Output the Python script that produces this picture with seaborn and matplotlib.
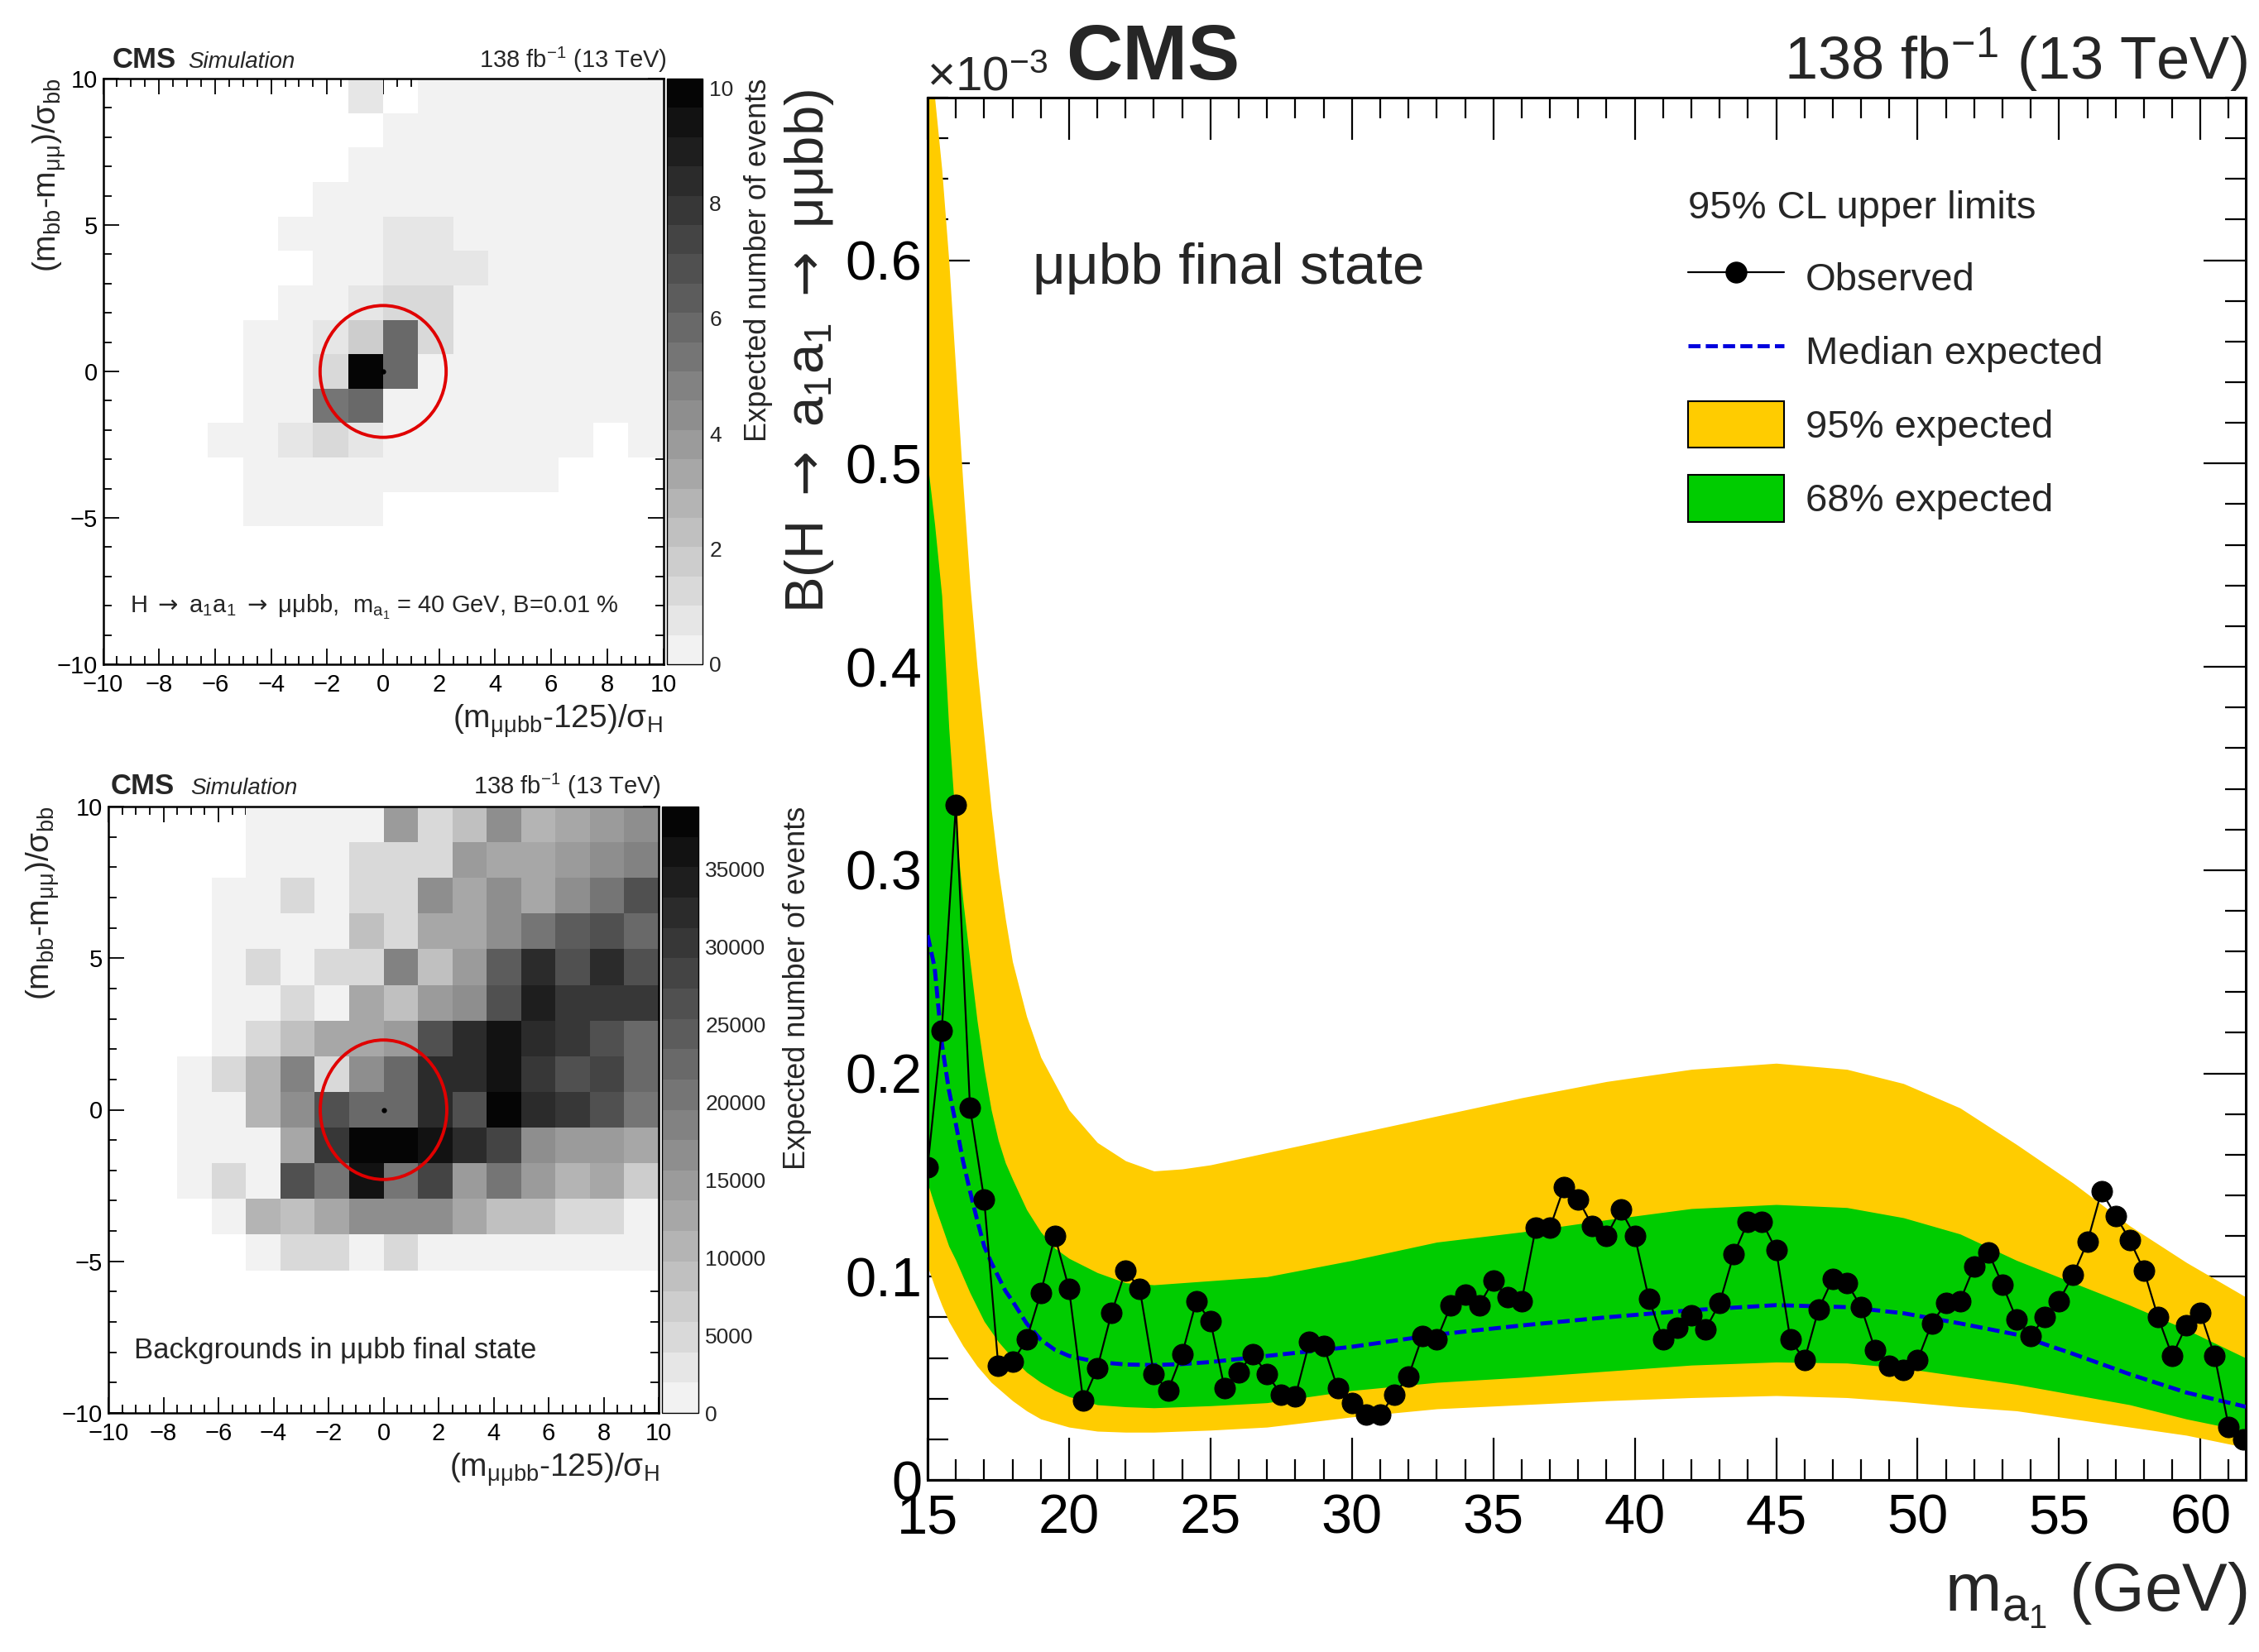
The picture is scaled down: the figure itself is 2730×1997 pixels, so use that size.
import numpy as np
import pandas as pd
import matplotlib
matplotlib.use("Agg")
import matplotlib.pyplot as plt
import seaborn as sns
from matplotlib.colors import ListedColormap
from matplotlib.patches import Ellipse, Patch
from matplotlib.lines import Line2D

# ------------------------------------------------------------------ data
# 2D maps: 16 x-bins in (m_mumubb-125)/sigma_H, 17 y-bins in (m_bb-m_mumu)/sigma_bb
x_edges = np.linspace(-10, 10, 17)
y_edges = np.linspace(-10, 10, 18)

# signal (expected events), rows listed from top (y=+10) to bottom (y=-10)
signal_rows = [
    [0, 0, 0, 0, 0, 0, 0, 0.55, 0, 0.2, 0.2, 0.2, 0.2, 0.2, 0.2, 0.2],
    [0, 0, 0, 0, 0, 0, 0, 0, 0.2, 0.2, 0.2, 0.2, 0.2, 0.2, 0.2, 0.2],
    [0, 0, 0, 0, 0, 0, 0, 0.2, 0.2, 0.2, 0.2, 0.2, 0.2, 0.2, 0.2, 0.2],
    [0, 0, 0, 0, 0, 0, 0.2, 0.2, 0.2, 0.2, 0.2, 0.2, 0.2, 0.2, 0.2, 0.2],
    [0, 0, 0, 0, 0, 0.2, 0.2, 0.2, 0.6, 0.6, 0.2, 0.2, 0.2, 0.2, 0.2, 0.2],
    [0, 0, 0, 0, 0, 0, 0.2, 0.2, 0.6, 0.6, 0.55, 0.2, 0.2, 0.2, 0.2, 0.2],
    [0, 0, 0, 0, 0, 0.2, 0.2, 0.6, 1.2, 1.4, 0.2, 0.2, 0.2, 0.2, 0.2, 0.2],
    [0, 0, 0, 0, 0.2, 0.2, 0.55, 1.7, 5.8, 1.4, 0.2, 0.2, 0.2, 0.2, 0.2, 0.2],
    [0, 0, 0, 0, 0.2, 0.2, 1.2, 10.0, 5.8, 0.15, 0.2, 0.2, 0.2, 0.2, 0.2, 0.2],
    [0, 0, 0, 0, 0.2, 0.2, 5.3, 5.8, 0.1, 0.2, 0.2, 0.2, 0.2, 0.2, 0.2, 0.2],
    [0, 0, 0, 0.2, 0.2, 0.6, 1.4, 0.55, 0.2, 0.2, 0.2, 0.2, 0.2, 0.2, 0, 0.2],
    [0, 0, 0, 0, 0.2, 0.2, 0.2, 0.2, 0.2, 0.2, 0.2, 0.2, 0.2, 0, 0, 0],
    [0, 0, 0, 0, 0.2, 0.2, 0.2, 0.2, 0, 0, 0, 0, 0, 0, 0, 0],
    [0] * 16,
    [0] * 16,
    [0] * 16,
    [0] * 16,
]

# backgrounds (expected events), rows from top to bottom
bkg_rows = [
    [0, 0, 0, 0, 300, 500, 500, 500, 14700, 4300, 9100, 17500, 10900, 13500, 14700, 17500],
    [0, 0, 0, 0, 500, 1700, 1700, 5200, 5200, 5600, 14500, 12700, 12700, 14700, 17500, 18800],
    [0, 0, 0, 500, 500, 4800, 1300, 4800, 4300, 17500, 13500, 17200, 12200, 16200, 20300, 25900],
    [0, 0, 0, 500, 1300, 500, 500, 8600, 4000, 12700, 12200, 17200, 20300, 25000, 25900, 22400],
    [0, 0, 0, 500, 4800, 1300, 5600, 5600, 18000, 8800, 14700, 25000, 31500, 27200, 32900, 25900],
    [0, 0, 0, 500, 1300, 4800, 1100, 12700, 8300, 14700, 17500, 25900, 34900, 30300, 30300, 30300],
    [0, 0, 0, 500, 5700, 8300, 13500, 11900, 14700, 25900, 31500, 35600, 32900, 30300, 25900, 23100],
    [0, 0, 500, 4800, 10900, 18800, 4800, 17500, 23100, 32900, 32900, 35600, 30300, 25900, 28600, 23100],
    [0, 0, 500, 1700, 10900, 17500, 25900, 23100, 23100, 31500, 25900, 39000, 31500, 29500, 25900, 20300],
    [0, 0, 500, 1300, 1300, 13500, 30300, 37400, 37400, 37000, 32900, 28600, 17500, 14700, 14700, 13500],
    [0, 0, 500, 4800, 1300, 25900, 20300, 35600, 20300, 27700, 14700, 20300, 14700, 10900, 11900, 7600],
    [0, 0, 0, 500, 10900, 9100, 12700, 17500, 16300, 17500, 11900, 9100, 9100, 4800, 4800, 1300],
    [0, 0, 0, 0, 500, 4800, 4800, 1300, 4000, 1300, 1300, 1300, 800, 800, 800, 800],
    [0] * 16,
    [0] * 16,
    [0] * 16,
    [0] * 16,
]

signal_vmax = 10.16
bkg_vmax = 39000
signal_cticks = [0, 2, 4, 6, 8, 10]
bkg_cticks = [0, 5000, 10000, 15000, 20000, 25000, 30000, 35000]
circle_radius = [2.25, 2.3]

map_x_major = [-10, -8, -6, -4, -2, 0, 2, 4, 6, 8, 10]
map_x_labels = ["\u221210", "\u22128", "\u22126", "\u22124", "\u22122", "0", "2", "4", "6", "8", "10"]
map_y_major = [-10, -5, 0, 5, 10]
map_y_labels = ["\u221210", "\u22125", "0", "5", "10"]

# limit plot (values in units of 1e-3)
obs_mass = [15.0, 15.5, 16.0, 16.5, 17.0, 17.5, 18.0, 18.5, 19.0, 19.5,
            20.0, 20.5, 21.0, 21.5, 22.0, 22.5, 23.0, 23.5, 24.0, 24.5,
            25.0, 25.5, 26.0, 26.5, 27.0, 27.5, 28.0, 28.5, 29.0, 29.5,
            30.0, 30.5, 31.0, 31.5, 32.0, 32.5, 33.0, 33.5, 34.0, 34.5,
            35.0, 35.5, 36.0, 36.5, 37.0, 37.5, 38.0, 38.5, 39.0, 39.5,
            40.0, 40.5, 41.0, 41.5, 42.0, 42.5, 43.0, 43.5, 44.0, 44.5,
            45.0, 45.5, 46.0, 46.5, 47.0, 47.5, 48.0, 48.5, 49.0, 49.5,
            50.0, 50.5, 51.0, 51.5, 52.0, 52.5, 53.0, 53.5, 54.0, 54.5,
            55.0, 55.5, 56.0, 56.5, 57.0, 57.5, 58.0, 58.5, 59.0, 59.5,
            60.0, 60.5, 61.0, 61.5]
obs_limit = [0.154, 0.221, 0.332, 0.183, 0.138, 0.056, 0.058, 0.069, 0.092, 0.120,
             0.094, 0.039, 0.055, 0.082, 0.103, 0.094, 0.052, 0.044, 0.062, 0.088,
             0.078, 0.045, 0.053, 0.062, 0.052, 0.042, 0.041, 0.068, 0.066, 0.045,
             0.038, 0.032, 0.032, 0.042, 0.051, 0.071, 0.069, 0.086, 0.091, 0.086,
             0.098, 0.090, 0.088, 0.124, 0.124, 0.144, 0.138, 0.125, 0.120, 0.133,
             0.120, 0.089, 0.069, 0.075, 0.081, 0.074, 0.087, 0.111, 0.127, 0.127,
             0.113, 0.069, 0.059, 0.084, 0.099, 0.097, 0.085, 0.064, 0.056, 0.054,
             0.059, 0.077, 0.087, 0.088, 0.105, 0.112, 0.096, 0.079, 0.071, 0.080,
             0.088, 0.101, 0.117, 0.142, 0.130, 0.118, 0.103, 0.080, 0.061, 0.076,
             0.082, 0.061, 0.026, 0.020]

band_mass = [15.0, 15.25, 15.5, 15.75, 16.0, 16.25, 16.5, 16.75, 17.0, 17.25, 17.5,
             17.75, 18.0, 18.5, 19.0, 19.5, 20.0, 21.0, 22.0, 23.0, 24.0, 25.0,
             27.0, 30.0, 33.0, 36.0, 39.0, 42.0, 45.0, 47.5, 49.5, 51.5, 53.5,
             55.5, 57.5, 59.5, 61.6]
exp_95_hi = [0.70, 0.68, 0.645, 0.60, 0.545, 0.49, 0.44, 0.40, 0.365, 0.33, 0.300,
             0.276, 0.255, 0.228, 0.208, 0.195, 0.182, 0.166, 0.157, 0.152, 0.153, 0.155,
             0.161, 0.170, 0.179, 0.188, 0.196, 0.202, 0.205, 0.202, 0.195, 0.183, 0.165,
             0.146, 0.125, 0.107, 0.090]
exp_68_hi = [0.50, 0.47, 0.435, 0.37, 0.32, 0.285, 0.255, 0.226, 0.202, 0.182, 0.167,
             0.156, 0.148, 0.133, 0.122, 0.114, 0.109, 0.102, 0.097, 0.096, 0.097, 0.098,
             0.100, 0.108, 0.117, 0.122, 0.128, 0.1335, 0.1355, 0.134, 0.129, 0.121, 0.108,
             0.097, 0.086, 0.074, 0.060]
exp_median = [0.268, 0.252, 0.215, 0.192, 0.175, 0.157, 0.142, 0.128, 0.115, 0.107, 0.100,
              0.093, 0.088, 0.077, 0.069, 0.064, 0.061, 0.058, 0.0568, 0.0565, 0.057, 0.058,
              0.061, 0.0655, 0.0715, 0.076, 0.080, 0.0835, 0.086, 0.085, 0.082, 0.077, 0.0715,
              0.062, 0.052, 0.043, 0.036]
exp_68_lo = [0.146, 0.135, 0.125, 0.115, 0.108, 0.100, 0.092, 0.085, 0.078, 0.073, 0.068,
             0.064, 0.060, 0.053, 0.048, 0.044, 0.041, 0.037, 0.036, 0.0355, 0.036, 0.0365,
             0.038, 0.044, 0.048, 0.0505, 0.0535, 0.0565, 0.058, 0.0575, 0.055, 0.051, 0.047,
             0.042, 0.037, 0.030, 0.024]
exp_95_lo = [0.105, 0.095, 0.086, 0.078, 0.072, 0.066, 0.061, 0.056, 0.052, 0.048, 0.045,
             0.042, 0.039, 0.034, 0.030, 0.028, 0.026, 0.024, 0.0235, 0.0235, 0.024, 0.0245,
             0.026, 0.031, 0.035, 0.037, 0.039, 0.0405, 0.0415, 0.0405, 0.0385, 0.036, 0.034,
             0.030, 0.026, 0.022, 0.016]

lim_x_major = [15, 20, 25, 30, 35, 40, 45, 50, 55, 60]
lim_x_labels = ["15", "20", "25", "30", "35", "40", "45", "50", "55", "60"]
lim_y_major = [0.0, 0.1, 0.2, 0.3, 0.4, 0.5, 0.6]
lim_y_labels = ["0", "0.1", "0.2", "0.3", "0.4", "0.5", "0.6"]
legend_title = "95% CL upper limits"
legend_labels = ["Observed", "Median expected", "95% expected", "68% expected"]

# ------------------------------------------------------------------ style
sns.set_style("ticks")
plt.rcParams["font.family"] = ["Liberation Sans", "DejaVu Sans"]
plt.rcParams["mathtext.fontset"] = "custom"
plt.rcParams["mathtext.rm"] = "DejaVu Sans"
plt.rcParams["mathtext.it"] = "Liberation Sans:italic"
plt.rcParams["mathtext.bf"] = "Liberation Sans:bold"
plt.rcParams["mathtext.default"] = "regular"

ARROW = r"$\mathrm{\rightarrow}$"

W, H = 2730, 1997
fig = plt.figure(figsize=(W / 100, H / 100), dpi=100)
fig.patch.set_facecolor("white")


def fx(px):
    return px / W


def fy(py):
    return 1 - py / H


def box(x0, y0, x1, y1):
    return [fx(x0), fy(y1), fx(x1) - fx(x0), fy(y0) - fy(y1)]


grays = np.linspace(0.95, 0.02, 20)
gray_cmap = ListedColormap([(g, g, g) for g in grays])

dx = x_edges[1] - x_edges[0]
dy = y_edges[1] - y_edges[0]


def cx(t):
    return (t - x_edges[0]) / dx


def cy(t):
    return (y_edges[-1] - t) / dy


def draw_map(ax, cax, rows, vmax, cticks, radius):
    Z = np.array(rows, dtype=float)
    xc = 0.5 * (x_edges[:-1] + x_edges[1:])
    yc = 0.5 * (y_edges[:-1] + y_edges[1:])[::-1]
    df = pd.DataFrame(Z, index=yc, columns=xc)
    sns.heatmap(df, ax=ax, cbar_ax=cax, cmap=gray_cmap, vmin=0, vmax=vmax,
                mask=(Z == 0), xticklabels=False, yticklabels=False,
                cbar_kws={"ticks": cticks})
    ax.set_facecolor("white")
    for s in ax.spines.values():
        s.set_visible(True)
        s.set_color("black")
        s.set_linewidth(1.8)
    ax.set_xticks([cx(t) for t in map_x_major])
    ax.set_xticklabels(map_x_labels)
    ax.set_xticks([cx(t) for t in np.arange(-10, 10.01, 0.5)], minor=True)
    ax.set_yticks([cy(t) for t in map_y_major])
    ax.set_yticklabels(map_y_labels)
    ax.set_yticks([cy(t) for t in np.arange(-10, 10.01, 1.0)], minor=True)
    ax.tick_params(which="both", direction="in", top=True, right=True,
                   bottom=True, left=True, color="black", width=1.3,
                   labelsize=21, labelcolor="black")
    ax.tick_params(which="major", length=14)
    ax.tick_params(which="minor", length=7)
    ax.tick_params(axis="x", pad=8)
    ax.tick_params(axis="y", pad=5)
    ax.set_xlabel("")
    ax.set_ylabel("")
    ax.add_patch(Ellipse((cx(0), cy(0)), width=2 * radius / dx, height=2 * radius / dy,
                         fill=False, edgecolor="#e00000", linewidth=2.8, zorder=5))
    ax.plot([cx(0)], [cy(0)], "o", color="black", ms=3.5, zorder=6)
    cb = ax.collections[0].colorbar
    cb.outline.set_linewidth(1.0)
    cb.outline.set_edgecolor("black")
    cax.tick_params(direction="in", length=14, width=1.3, labelsize=19,
                    right=True, left=False, pad=6, color="black")
    cax.set_yticklabels([str(t) for t in cticks])


# ---------------- top-left: signal map
axT = fig.add_axes(box(124.5, 95, 801.5, 803))
caxT = fig.add_axes(box(806, 95, 849, 803))
draw_map(axT, caxT, signal_rows, signal_vmax, signal_cticks, circle_radius[0])

# ---------------- bottom-left: background map
axB = fig.add_axes(box(131, 975, 796, 1708))
caxB = fig.add_axes(box(800, 975, 844, 1708))
draw_map(axB, caxB, bkg_rows, bkg_vmax, bkg_cticks, circle_radius[1])

ylab_map = "(m$_{bb}$-m$_{\u03bc\u03bc}$)/\u03c3$_{bb}$"
xlab_map = "(m$_{\u03bc\u03bcbb}$-125)/\u03c3$_{H}$"

for (top, bot, axr, xl, cbx, cms_x, sim_x, lumi_x, base) in [
        (95, 803, 801, 60, 917, 136, 227, 806, 82),
        (975, 1708, 797, 52, 963, 134, 230, 799, 960)]:
    fig.text(fx(cms_x), fy(base), "CMS", fontsize=25, fontweight="bold", va="baseline")
    fig.text(fx(sim_x), fy(base), "Simulation", fontsize=20, fontstyle="italic", va="baseline")
    fig.text(fx(lumi_x), fy(base), "138 fb$^{-1}$ (13 TeV)", fontsize=21, ha="right", va="baseline")
    fig.text(fx(xl), fy(top), ylab_map, fontsize=28, rotation=90, ha="center", va="top")
    fig.text(fx(axr), fy(bot + 78), xlab_map, fontsize=28, ha="right", va="baseline")
    fig.text(fx(cbx), fy(top), "Expected number of events", fontsize=26, rotation=90,
             ha="center", va="top")

fig.text(fx(157), fy(741),
         "H " + ARROW + " a$_{1}$a$_{1}$ " + ARROW + " \u03bc\u03bcbb,  m$_{a_{1}}$ = 40 GeV, B=0.01 %",
         fontsize=21, va="baseline")
fig.text(fx(162), fy(1642), "Backgrounds in \u03bc\u03bcbb final state", fontsize=25, va="baseline")

# ---------------- right: limit plot
axR = fig.add_axes(box(1121, 118, 2714, 1789))
axR.set_facecolor("white")
axR.fill_between(band_mass, exp_95_lo, exp_95_hi, color="#ffcc00", linewidth=0, zorder=1)
axR.fill_between(band_mass, exp_68_lo, exp_68_hi, color="#00cc00", linewidth=0, zorder=2)
sns.lineplot(x=band_mass, y=exp_median, ax=axR, color="#0000dd", linewidth=3.5,
             linestyle=(0, (3, 1.3)), estimator=None, sort=False, zorder=3)
sns.lineplot(x=obs_mass, y=obs_limit, ax=axR, color="black", linewidth=1.6,
             marker="o", markersize=18, markeredgecolor="black", estimator=None,
             sort=False, zorder=4)
axR.set_xlim(15, 61.6)
axR.set_ylim(0, 0.68)
axR.set_xticks(lim_x_major)
axR.set_xticklabels(lim_x_labels)
axR.set_xticks(np.arange(15, 61.6, 1.0), minor=True)
axR.set_yticks(lim_y_major)
axR.set_yticklabels(lim_y_labels)
axR.set_yticks(np.arange(0, 0.681, 0.02), minor=True)
axR.tick_params(which="both", direction="in", top=True, right=True, bottom=True,
                left=True, color="black", width=1.6, labelsize=48, labelcolor="black")
axR.tick_params(which="major", length=37)
axR.tick_params(which="minor", length=18)
axR.tick_params(axis="x", pad=12)
axR.tick_params(axis="y", pad=5)
axR.set_xlabel("")
axR.set_ylabel("")
for s in axR.spines.values():
    s.set_visible(True)
    s.set_color("black")
    s.set_linewidth(2.2)

handles = [
    Line2D([], [], color="black", linewidth=1.6, marker="o", markersize=18),
    Line2D([], [], color="#0000dd", linewidth=3.5, linestyle=(0, (3, 1.3))),
    Patch(facecolor="#ffcc00", edgecolor="black", linewidth=1.5),
    Patch(facecolor="#00cc00", edgecolor="black", linewidth=1.5),
]
axR.legend(handles, legend_labels, title=legend_title, loc="upper left",
           bbox_to_anchor=(fx(2040), fy(230)), bbox_transform=fig.transFigure,
           frameon=False, fontsize=34, title_fontsize=34, handlelength=2.45,
           handleheight=1.45, handletextpad=0.55, labelspacing=0.7,
           borderpad=0, borderaxespad=0, alignment="left")

fig.text(fx(1288), fy(96), "CMS", fontsize=68, fontweight="bold", va="baseline")
fig.text(fx(1120), fy(110), "\u00d710$^{-3}$", fontsize=42, va="baseline")
fig.text(fx(2716), fy(96), "138 fb$^{-1}$ (13 TeV)", fontsize=52, ha="right", va="baseline")
fig.text(fx(1248), fy(343), "\u03bc\u03bcbb final state", fontsize=50, va="baseline")
fig.text(fx(2716), fy(1947), "m$_{a_{1}}$ (GeV)", fontsize=59, ha="right", va="baseline")
fig.text(fx(978), fy(108), "B(H " + ARROW + " a$_{1}$a$_{1}$ " + ARROW + " \u03bc\u03bcbb)",
         fontsize=47, rotation=90, ha="center", va="top")

fig.savefig("out.png", dpi=100, facecolor="white")
